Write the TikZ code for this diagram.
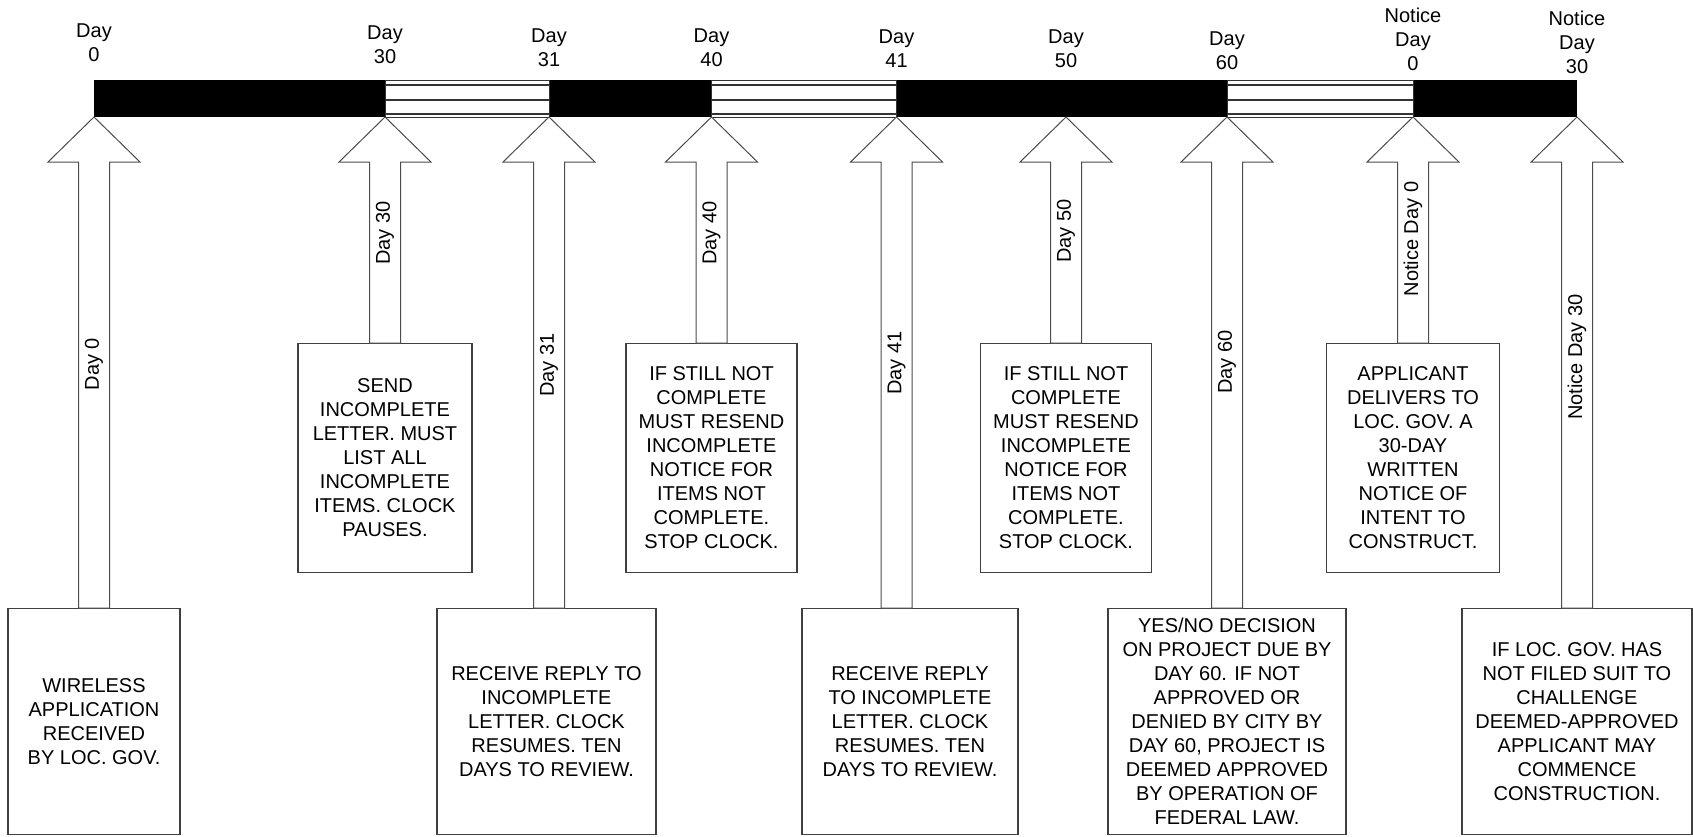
\documentclass[tikz,border=0pt]{standalone}
\usepackage{fontspec}
\setmainfont{Liberation Sans}
\usetikzlibrary{positioning,calc}

% block arrow from a box up to a tick of the time bar
\newcommand{\blockup}[2]{%
  \draw[blockarrow] let \p1=(#1), \p2=(#2.north) in
    (\x1,\y1) -- (\x1+23pt,\y1-22.5pt) -- (\x1+7.75pt,\y1-22.5pt) -- (\x1+7.75pt,\y2)
    -- (\x1-7.75pt,\y2) -- (\x1-7.75pt,\y1-22.5pt) -- (\x1-23pt,\y1-22.5pt) -- cycle;}

\begin{document}
\begin{tikzpicture}[
  x=0.5pt, y=-0.5pt,
  every node/.style={font=\fontsize{10}{12}\selectfont},
  box/.style={draw=black!75, line width=0.6pt, fill=white, align=center, minimum width=#1, inner sep=2pt},
  topbox/.style={box=#1, minimum height=114.5pt},
  lowbox/.style={box=#1, minimum height=113pt},
  daytag/.style={align=center, anchor=south, inner sep=0pt},
  shafttag/.style={rotate=90, inner sep=0pt},
  blockarrow/.style={draw=black!70, fill=white, line width=0.5pt},
  pause/.style={draw=black!80, fill=white, line width=0.5pt}
]
\useasboundingbox (0,0) rectangle (1693,836);

% ticks on the time bar
\coordinate (t0) at (94,117);
\coordinate (t30) at (385,117);
\coordinate (t31) at (549,117);
\coordinate (t40) at (711.5,117);
\coordinate (t41) at (896.5,117);
\coordinate (t50) at (1066,117);
\coordinate (t60) at (1227,117);
\coordinate (n0) at (1413,117);
\coordinate (n30) at (1577,117);

% time bar: running clock black, paused clock striped
\foreach \a/\b in {t0/t30, t31/t40, t41/t60, n0/n30}
  \fill ($(\a)+(0,-37)$) rectangle (\b);
\foreach \a/\b in {t30/t31, t40/t41, t60/n0} {
  \draw[pause] ($(\a)+(0,-37)$) rectangle (\b);
  \foreach \h/\w in {-32/0.8pt, -17/0.8pt, -3/1.1pt}
    \draw[line width=\w, black!80] ($(\a)+(0,\h)$) -- ($(\b)+(0,\h)$);
}

\node[daytag] (d0) at (94,62) {Day\\0};
\node[daytag] (d30) at (385,64) {Day\\30};
\node[daytag] (d31) at (549,67) {Day\\31};
\node[daytag] (d40) at (711.5,67) {Day\\40};
\node[daytag] (d41) at (896.5,68) {Day\\41};
\node[daytag] (d50) at (1066,68) {Day\\50};
\node[daytag] (d60) at (1227,70) {Day\\60};
\node[daytag] (dn0) at (1413,71) {Notice\\Day\\0};
\node[daytag] (dn30) at (1577,74) {Notice\\Day\\30};

% boxes
\node[lowbox=86pt, below=245.5pt of t0] (b0) {WIRELESS\\APPLICATION\\RECEIVED\\BY LOC. GOV.};
\node[topbox=87pt, below=113pt of t30] (b30) {SEND\\INCOMPLETE\\LETTER. MUST\\LIST ALL\\INCOMPLETE\\ITEMS. CLOCK\\PAUSES.};
\node[lowbox=109.5pt, below=245.5pt of t31, xshift=-1.25pt] (b31) {RECEIVE REPLY TO\\INCOMPLETE\\LETTER. CLOCK\\RESUMES. TEN\\DAYS TO REVIEW.};
\node[topbox=85.5pt, below=113pt of t40] (b40) {IF STILL NOT\\COMPLETE\\MUST RESEND\\INCOMPLETE\\NOTICE FOR\\ITEMS NOT\\COMPLETE.\\STOP CLOCK.};
\node[lowbox=108pt, below=245.5pt of t41, xshift=6.75pt] (b41) {RECEIVE REPLY\\TO INCOMPLETE\\LETTER. CLOCK\\RESUMES. TEN\\DAYS TO REVIEW.};
\node[topbox=85.5pt, below=113pt of t50] (b50) {IF STILL NOT\\COMPLETE\\MUST RESEND\\INCOMPLETE\\NOTICE FOR\\ITEMS NOT\\COMPLETE.\\STOP CLOCK.};
\node[lowbox=119pt, below=245.5pt of t60] (b60) {YES/NO DECISION\\ON PROJECT DUE BY\\DAY 60. IF NOT\\APPROVED OR\\DENIED BY CITY BY\\DAY 60, PROJECT IS\\DEEMED APPROVED\\BY OPERATION OF\\FEDERAL LAW.};
\node[topbox=86.5pt, below=113pt of n0] (bn0) {APPLICANT\\DELIVERS TO\\LOC. GOV. A\\30-DAY\\WRITTEN\\NOTICE OF\\INTENT TO\\CONSTRUCT.};
\node[lowbox=115pt, below=245.5pt of n30] (bn30) {IF LOC. GOV. HAS\\NOT FILED SUIT TO\\CHALLENGE\\DEEMED-APPROVED\\APPLICANT MAY\\COMMENCE\\CONSTRUCTION.};

% arrows up to the bar
\foreach \t/\b in {t0/b0, t30/b30, t31/b31, t40/b40, t41/b41, t50/b50, t60/b60, n0/bn0, n30/bn30}
  \blockup{\t}{\b};

\node[shafttag] (s0) at ($(t0)+(0,247)$) {Day 0};
\node[shafttag] (s30) at ($(t30)+(0,116)$) {Day 30};
\node[shafttag] (s31) at ($(t31)+(0,248)$) {Day 31};
\node[shafttag] (s40) at ($(t40)+(0,116)$) {Day 40};
\node[shafttag] (s41) at ($(t41)+(0,246)$) {Day 41};
\node[shafttag] (s50) at ($(t50)+(0,114)$) {Day 50};
\node[shafttag] (s60) at ($(t60)+(0,245)$) {Day 60};
\node[shafttag] (sn0) at ($(n0)+(0,122)$) {Notice Day 0};
\node[shafttag] (sn30) at ($(n30)+(0,240)$) {Notice Day 30};
\end{tikzpicture}
\end{document}
